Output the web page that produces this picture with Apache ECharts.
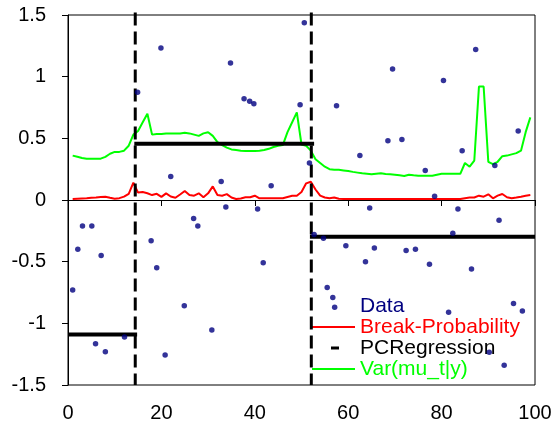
<!DOCTYPE html>
<html>
<head>
<meta charset="utf-8">
<style>
    html, body { margin: 0; padding: 0; background: #fff; }
    #chart { width: 555px; height: 430px; }
</style>
<script src="https://cdn.jsdelivr.net/npm/echarts@6/dist/echarts.min.js"></script>
</head>
<body>
<div id="chart"></div>
<script>
// observed data points (t, value)
const dataT = [1.0, 2.1, 3.1, 5.1, 5.9, 7.1, 8.0, 12.1, 14.9, 17.8, 19.0, 19.9, 20.8, 22.0, 24.9, 26.9, 27.8, 30.8,
    32.8, 33.8, 34.8, 37.7, 38.9, 39.8, 40.6, 41.8, 43.5, 49.7, 50.6, 51.7, 52.7, 54.7, 55.5, 56.7, 57.1, 57.5,
    59.5, 62.5, 63.7, 64.6, 65.6, 68.5, 69.5, 71.5, 72.4, 74.4, 76.5, 77.4, 78.5, 80.4, 81.5, 82.4, 83.5, 84.4,
    86.4, 87.3, 90.2, 91.4, 92.3, 93.4, 95.4, 96.4, 97.3];
const dataY = [-0.73, -0.40, -0.21, -0.21, -1.165, -0.45, -1.23, -1.11, 0.873, -0.33, -0.55, 1.233, -1.257, 0.19, -0.857, -0.149, -0.21, -1.054,
    0.15, -0.057, 1.11, 0.82, 0.80, 0.78, -0.073, -0.508, 0.116, 0.773, 1.438, 0.30, -0.28, -0.31, -0.71, -0.79, -0.87, 0.765,
    -0.37, 0.36, -0.50, -0.065, -0.39, 0.48, 1.062, 0.49, -0.41, -0.40, 0.24, -0.52, 0.03, 0.968, -0.91, -0.27, -0.073, 0.40,
    -0.56, 1.22, -1.235, 0.28, -0.165, -1.34, -0.84, 0.56, -0.90];

// break probability, t = 1..99
const breakProb = [0.008, 0.01, 0.012, 0.014, 0.018, 0.02, 0.024, 0.027, 0.018, 0.01,
    0.015, 0.027, 0.05, 0.14, 0.06, 0.065, 0.055, 0.04, 0.05, 0.025,
    0.054, 0.028, 0.018, 0.045, 0.073, 0.04, 0.035, 0.054, 0.022, 0.054,
    0.11, 0.04, 0.035, 0.048, 0.02, 0.008, 0.012, 0.022, 0.022, 0.035,
    0.014, 0.014, 0.014, 0.014, 0.014, 0.014, 0.025, 0.035, 0.035, 0.065,
    0.135, 0.148, 0.085, 0.035, 0.02, 0.014, 0.02, 0.01, 0.008, 0.008,
    0.008, 0.008, 0.008, 0.008, 0.008, 0.008, 0.008, 0.008, 0.008, 0.008,
    0.008, 0.008, 0.008, 0.008, 0.008, 0.008, 0.008, 0.008, 0.008, 0.008,
    0.008, 0.008, 0.008, 0.008, 0.015, 0.02, 0.02, 0.035, 0.027, 0.046,
    0.014, 0.035, 0.049, 0.022, 0.014, 0.02, 0.027, 0.035, 0.04];

// Var(mu_t|y), t = 1..99
const varMu = [0.36, 0.35, 0.34, 0.335, 0.335, 0.335, 0.335, 0.35, 0.375, 0.39,
    0.39, 0.40, 0.44, 0.53, 0.56, 0.63, 0.70, 0.53, 0.535, 0.535,
    0.54, 0.54, 0.54, 0.54, 0.545, 0.54, 0.53, 0.52, 0.54, 0.55,
    0.52, 0.47, 0.445, 0.425, 0.41, 0.405, 0.40, 0.397, 0.397, 0.397,
    0.40, 0.405, 0.415, 0.43, 0.44, 0.445, 0.55, 0.63, 0.71, 0.45,
    0.44, 0.40, 0.33, 0.30, 0.27, 0.25, 0.245, 0.245, 0.24, 0.235,
    0.228, 0.222, 0.216, 0.212, 0.208, 0.212, 0.216, 0.21, 0.208, 0.205,
    0.20, 0.195, 0.205, 0.20, 0.197, 0.197, 0.197, 0.197, 0.205, 0.212,
    0.212, 0.212, 0.212, 0.212, 0.30, 0.27, 0.32, 0.92, 0.92, 0.31,
    0.29, 0.31, 0.355, 0.36, 0.37, 0.38, 0.40, 0.55, 0.67];

// piecewise constant regression: [start, end, level]
const segStart = [0, 14.2, 51.8];
const segEnd = [14.8, 52.7, 100];
const segLevel = [-1.09, 0.457, -0.297];
const breakAt = [14.4, 52.1];

const xTicks = { min: 0, max: 100, step: 20 };
const yTicks = { min: -1.5, max: 1.5, step: 0.5 };

let chart = echarts.init(document.getElementById('chart'));

const font = 'Liberation Sans, Arial, sans-serif';
const axisBase = {
    type: 'value',
    axisLine: { show: true, lineStyle: { color: '#000', width: 1 } },
    axisTick: { show: true, inside: false, length: 6, lineStyle: { color: '#000' } },
    axisLabel: { color: '#000', fontSize: 20, fontFamily: font },
    splitLine: { show: false }
};

let series = [];
series.push({
    name: 'Data',
    type: 'scatter',
    symbol: 'circle',
    symbolSize: 5.5,
    itemStyle: { color: '#000080' },
    data: dataT.map((t, i) => [t, dataY[i]]),
    z: 5
});
series.push({
    name: 'Break-Probability',
    type: 'line',
    showSymbol: false,
    lineStyle: { color: '#ff0000', width: 2 },
    itemStyle: { color: '#ff0000' },
    data: breakProb.map((v, i) => [i + 1, v]),
    z: 3
});
// horizontal levels
segLevel.forEach((lv, i) => {
    series.push({
        name: 'PCRegression',
        type: 'line',
        showSymbol: false,
        lineStyle: { color: '#000', width: 4 },
        itemStyle: { color: '#000' },
        data: [[segStart[i], lv], [segEnd[i], lv]],
        z: 4
    });
});
// dashed break lines
breakAt.forEach(b => {
    series.push({
        name: 'breaks',
        type: 'line',
        showSymbol: false,
        clip: false,
        lineStyle: { color: '#000', width: 3, type: [13, 6] },
        data: [[b, 1.52], [b, -1.5]],
        z: 4
    });
});
series.push({
    name: 'Var(mu_t|y)',
    type: 'line',
    showSymbol: false,
    lineStyle: { color: '#00ff00', width: 2 },
    itemStyle: { color: '#00ff00' },
    data: varMu.map((v, i) => [i + 1, v]),
    z: 3
});

let option = {
    animation: false,
    backgroundColor: '#fff',
    grid: {
        left: 68, right: 20, top: 15, bottom: 45,
        show: true, borderColor: '#000', borderWidth: 1
    },
    xAxis: Object.assign({}, axisBase, {
        min: xTicks.min, max: xTicks.max, interval: xTicks.step,
        axisLabel: Object.assign({}, axisBase.axisLabel, { margin: 18 })
    }),
    yAxis: Object.assign({}, axisBase, {
        min: yTicks.min, max: yTicks.max, interval: yTicks.step,
        axisLabel: Object.assign({}, axisBase.axisLabel, { margin: 22 })
    }),
    legend: {
        show: true,
        orient: 'vertical',
        left: 312,
        top: 295,
        padding: 0,
        itemWidth: 43,
        itemHeight: 3,
        itemGap: -1,
        textStyle: { fontSize: 21, lineHeight: 22, fontFamily: font },
        data: [
            { name: 'Data', icon: 'rect', itemStyle: { opacity: 0 }, textStyle: { color: '#000080' } },
            { name: 'Break-Probability', icon: 'path://M0,0.5 H43 V2.5 H0 Z', textStyle: { color: '#ff0000' } },
            { name: 'PCRegression', icon: 'path://M0,0 L0,0 M43,3 L43,3 M19,0 H27 V3 H19 Z', itemStyle: { color: '#000' }, textStyle: { color: '#000' } },
            { name: 'Var(mu_t|y)', icon: 'path://M0,0.5 H43 V2.5 H0 Z', textStyle: { color: '#00ff00' } }
        ]
    },
    series: series
};
chart.setOption(option);
</script>
</body>
</html>
